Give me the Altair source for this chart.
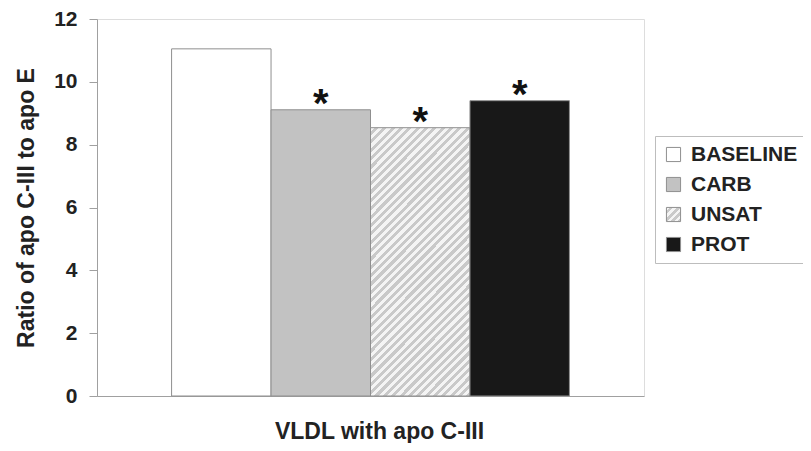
import json
import altair as alt
import pandas as pd

categories = ["BASELINE", "CARB", "UNSAT", "PROT"]
values = [11.05, 9.11, 8.54, 9.40]
marks = ["", "*", "*", "*"]
y_ticks = [0, 2, 4, 6, 8, 10, 12]

df = pd.DataFrame({"cat": categories, "val": values, "sig": marks})

c1, c2 = "#f4f4f4", "#c9c9c9"


def stripes(n):
    st = []
    for i in range(n):
        a = i / n
        b = (i + 0.5) / n
        e = (i + 1) / n
        st += [{"offset": a, "color": c1}, {"offset": b, "color": c1},
               {"offset": b, "color": c2}, {"offset": e, "color": c2}]
    return st


# diagonal hatch drawn as a striped linear gradient (style only)
grad_bar = {"gradient": "linear", "x1": 0, "y1": 0, "x2": 0.448, "y2": 1.205, "stops": stripes(44)}
grad_legend = {"gradient": "linear", "x1": 0, "y1": 0, "x2": 1, "y2": 1, "stops": stripes(4)}

FONT = "Liberation Sans"
TXT = "#222222"

color_scale = alt.Scale(
    domain=categories,
    range=["#ffffff", "#c2c2c2", alt.ExprRef(expr=json.dumps(grad_legend)), "#181818"],
)

x_enc = alt.X("cat:N", sort=categories,
              scale=alt.Scale(paddingInner=0, paddingOuter=0.75),
              axis=alt.Axis(labels=False, ticks=False, domain=True, domainColor="#a0a0a0",
                            title="VLDL with apo C-III", titleFontSize=23, titleFont=FONT,
                            titleFontWeight="bold", titleColor=TXT, titlePadding=24,
                            titleX=282))

fill_field = alt.Fill("cat:N", sort=categories, scale=color_scale,
                      legend=alt.Legend(title=None, orient="none", legendX=558, legendY=117,
                                        labelFontSize=21, labelFont=FONT, labelFontWeight="bold",
                                        labelColor=TXT, symbolType="square", symbolSize=200,
                                        symbolStrokeColor="#8f8f8f", symbolStrokeWidth=1,
                                        strokeColor="#bdbdbd", padding=8, rowPadding=8,
                                        labelOffset=7))

bars = alt.Chart(df).mark_bar(stroke="#8f8f8f", strokeWidth=1).encode(
    x=x_enc,
    y=alt.Y("val:Q", scale=alt.Scale(domain=[0, 12]),
            axis=alt.Axis(values=y_ticks, grid=False, domainColor="#a0a0a0", tickColor="#a0a0a0",
                          tickSize=8, labelFontSize=21, labelFont=FONT, labelFontWeight="bold",
                          labelColor=TXT, labelPadding=12,
                          title="Ratio of apo C-III to apo E", titleFontSize=23, titleFont=FONT,
                          titleFontWeight="bold", titleColor=TXT, titlePadding=15)),
    fill=alt.condition(alt.datum.cat == "UNSAT", alt.value(grad_bar), fill_field),
)

stars = alt.Chart(df).mark_text(fontSize=40, font=FONT, fontWeight="bold", baseline="alphabetic",
                                dy=7, color="#111111").encode(
    x=alt.X("cat:N", sort=categories),
    y=alt.Y("val:Q"),
    text="sig:N",
)

chart = (bars + stars).properties(
    width=547, height=377,
    autosize=alt.AutoSizeParams(type="none"),
    padding={"left": 89, "top": 11, "right": 159, "bottom": 47},
).configure_view(stroke="#bdbdbd", strokeWidth=1.5).configure(background="white")

chart.save("out.html", embed_options={"renderer": "svg", "actions": False})
